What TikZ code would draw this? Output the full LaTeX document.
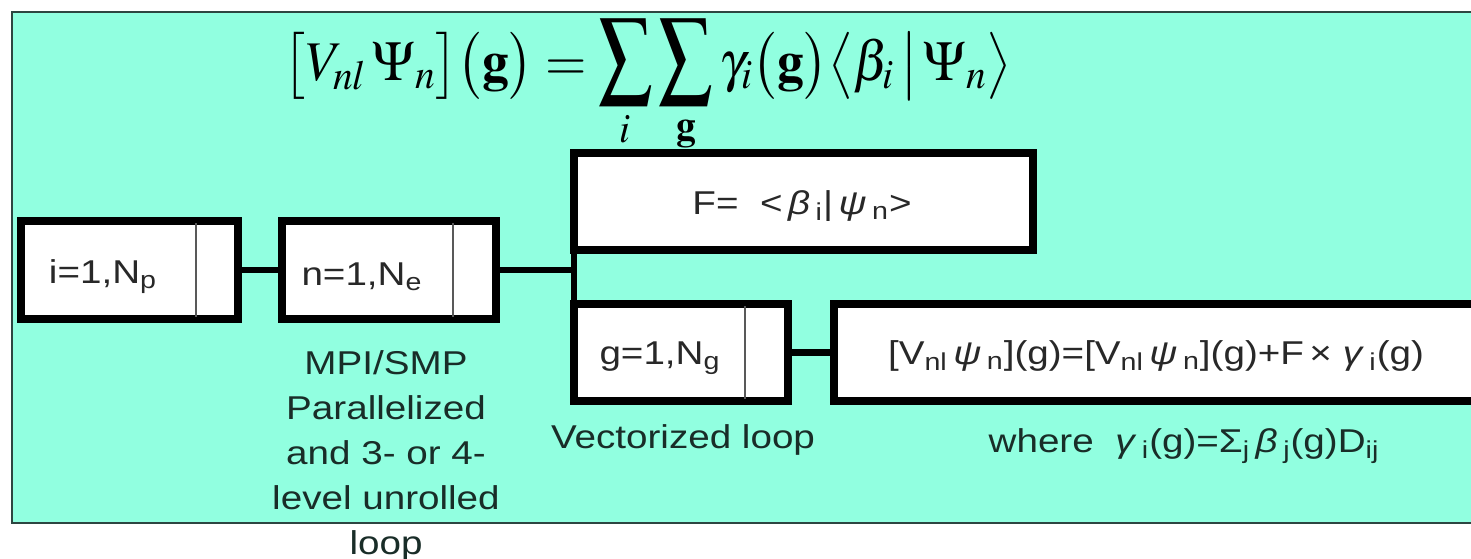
\documentclass[tikz,border=0pt]{standalone}
\usepackage{mathptmx}
\usepackage{graphicx}
\usepackage[no-math]{fontspec}
\setmainfont[FakeStretch=1.17]{Liberation Sans}
\definecolor{panel}{RGB}{145,255,224}
\definecolor{paneledge}{RGB}{45,70,65}
\definecolor{notetxt}{RGB}{25,45,40}
\definecolor{boxtxt}{RGB}{40,40,40}
\newcommand{\sbs}[1]{\textsubscript{#1}}
\newcommand{\tallsum}{\mathop{\scalebox{1}[1.25]{$\displaystyle\sum$}}\limits}
\begin{document}
\begin{tikzpicture}[x=0.5pt,y=-0.5pt,
  loopbox/.style={draw=black, line width=4pt, fill=white, outer sep=0pt, inner sep=0pt},
  divider/.style={draw=black!65, line width=0.7pt},
  link/.style={draw=black, line width=2.6pt},
  biglink/.style={draw=black, line width=3.6pt},
  boxtext/.style={font=\fontsize{16.5}{20}\selectfont, text=boxtxt, inner sep=0pt},
  note/.style={font=\fontsize{16.5}{22.5}\selectfont, text=notetxt, align=center, inner sep=0pt},
]
\useasboundingbox (0,0) rectangle (1471,558);
\clip (0,0) rectangle (1471,558);
\fill[white] (0,0) rectangle (1471,558);
\draw[fill=panel, draw=paneledge, line width=1pt] (12,12) rectangle (1490,523);

% formula
\node[inner sep=0pt, anchor=base] (formula) at (648,80) {\fontsize{28}{32}\selectfont
  \scalebox{0.95}[1]{$\displaystyle \bigl[V_{nl}\,\Psi_{n}\bigr]\bigl(\mathbf{g}\bigr)=\tallsum_{i}\tallsum_{\mathbf{g}}\gamma_{i}\bigl(\mathbf{g}\bigr)\bigl\langle\beta_{i}\,\big|\,\Psi_{n}\bigr\rangle$}};

% boxes
\node[loopbox, minimum width=108.5pt, minimum height=49pt] (ibox) at (129.5,270) {};
\node[loopbox, minimum width=107pt, minimum height=49pt] (nbox) at (389,270) {};
\node[loopbox, minimum width=229.5pt, minimum height=48.5pt] (fbox) at (803.5,201.5) {};
\node[loopbox, minimum width=107pt, minimum height=48.5pt] (gbox) at (681,352.5) {};
\node[loopbox, minimum width=328pt, minimum height=48.5pt] (vbox) at (1162,352.5) {};

% dividers
\draw[divider] (196,223) -- (196,317);
\draw[divider] (453,223) -- (453,317);
\draw[divider] (745,306) -- (745,399);

% box texts
\node[boxtext] (itext) at (103,277) {i=1,N\sbs{p}};
\node[boxtext] (ntext) at (362,277) {n=1,N\sbs{e}};
\node[boxtext] (gtext) at (660,358) {g=1,N\sbs{g}};
\node[boxtext] (ftext) at (802,206) {F=\ \ <\,\textit{β}\,\sbs{i}|\,\textit{ψ}\,\sbs{n}>};
\node[boxtext] (vtext) at (1156,356) {[V\sbs{nl}\,\textit{ψ}\,\sbs{n}](g)=[V\sbs{nl}\,\textit{ψ}\,\sbs{n}](g)+F\,×\ \textit{γ}\,\sbs{i}(g)};

% connectors
\draw[link] (ibox.east) -- (nbox.west);
\coordinate (junction) at (nbox.east -| fbox.west);
\draw[link] (nbox.east) -- (junction);
\draw[link] (fbox.south west) -- (gbox.north west);
\draw[biglink] (gbox.east) -- (vbox.west);

% notes
\node[note, anchor=north] (mpinote) at (386,350) {MPI/SMP\\Parallelized\\and 3- or 4-\\level unrolled\\loop};
\node[note] (vecnote) at (683,440) {Vectorized loop};
\node[note] (wherenote) at (1184,446) {where\ \ \textit{γ}\,\sbs{i}(g)=Σ\sbs{j}\,\textit{β}\,\sbs{j}(g)D\sbs{ij}};
\end{tikzpicture}
\end{document}
